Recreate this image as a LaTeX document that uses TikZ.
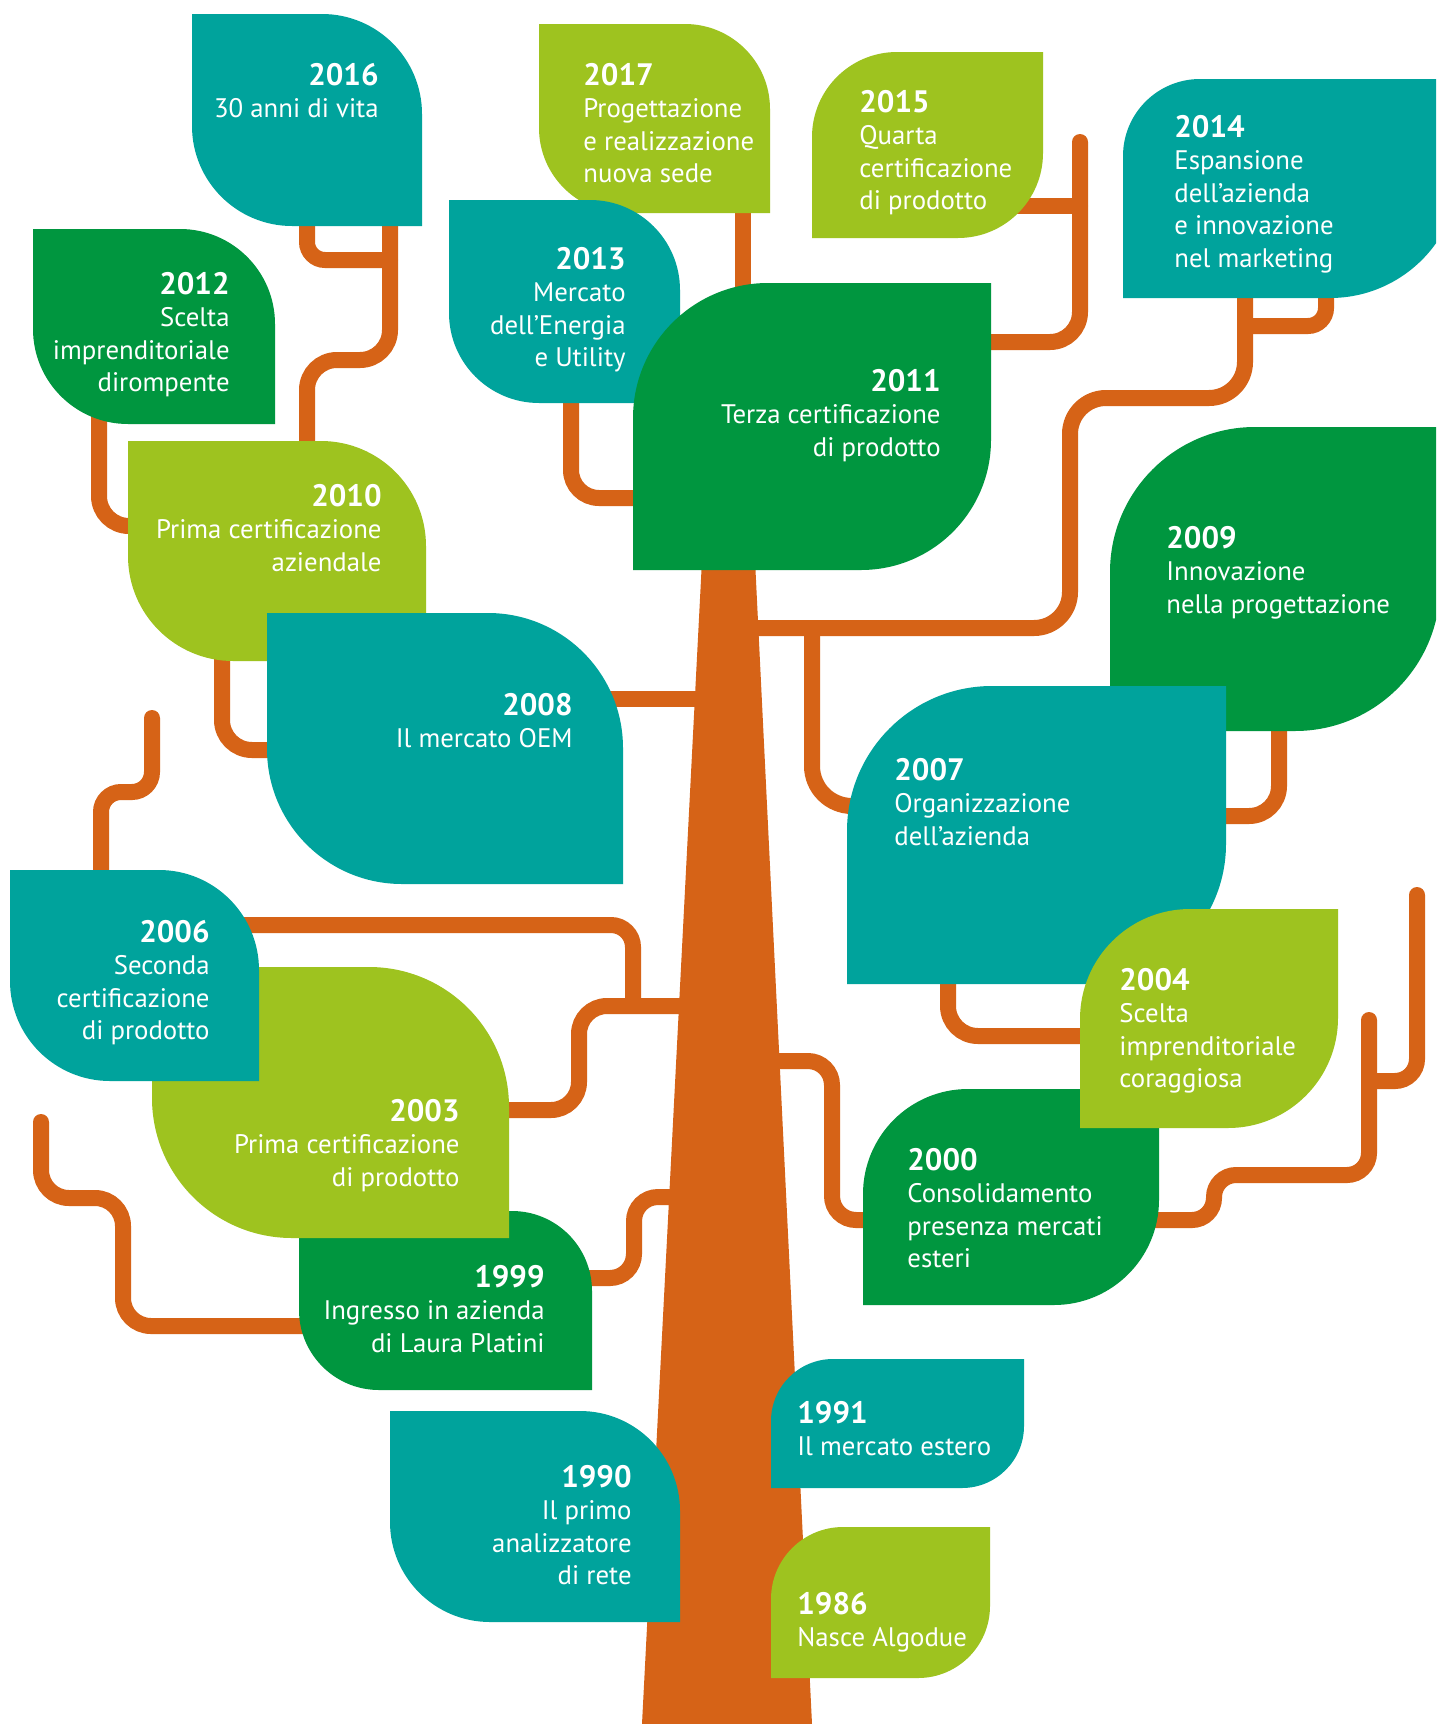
\documentclass[tikz,border=0pt]{standalone}
\usepackage{fontspec}
\setmainfont{PT Sans}
\definecolor{teal1}{HTML}{00A39C}
\definecolor{dgreen}{HTML}{00963F}
\definecolor{lgreen}{HTML}{9EC31F}
\definecolor{brorange}{HTML}{D66317}
% leaf with top-right and bottom-left corners rounded: left, top, right, bottom, radius, colour
\newcommand\leafA[6]{\fill[#6] (#1,#2) -- ({#3-#5},#2) .. controls ({#3-0.448*#5},#2) and (#3,{#2+0.448*#5}) .. (#3,{#2+#5}) -- (#3,#4) -- ({#1+#5},#4) .. controls ({#1+0.448*#5},#4) and (#1,{#4-0.448*#5}) .. (#1,{#4-#5}) -- cycle;}
% leaf with top-left and bottom-right corners rounded: left, top, right, bottom, r1, r2, colour
\newcommand\leafB[7]{\fill[#7] (#1,{#2+#5}) .. controls (#1,{#2+0.448*#5}) and ({#1+0.448*#5},#2) .. ({#1+#5},#2) -- (#3,#2) -- (#3,{#4-#6}) .. controls (#3,{#4-0.448*#6}) and ({#3-0.448*#6},#4) .. ({#3-#6},#4) -- (#1,#4) -- cycle;}
\newcommand\yr[1]{{\fontsize{15.5}{16.2}\selectfont\bfseries #1}}
\tikzset{
  branch/.style={draw=brorange, line width=8pt, line cap=round, rounded corners=#1},
  branch/.default=14pt,
  leaftext/.style={text=white, inner sep=0pt, font=\fontsize{13.4}{16.2}\selectfont},
  lt/.style={leaftext, anchor=north west, align=left},
  rt/.style={leaftext, anchor=north east, align=right},
}
\begin{document}
\begin{tikzpicture}[x=0.5pt, y=-0.5pt]
\path[use as bounding box] (0,0) rectangle (1436,1724);
\clip (0,0) rectangle (1436,1724);
\fill[white] (0,0) rectangle (1436,1724);
% branches
\draw[branch=9pt] (307,200) -- (307,260) -- (390,260);
\draw[branch=15pt] (390,200) -- (390,360) -- (307,360) -- (307,460);
\draw[branch=15pt] (99,400) -- (99,526) -- (150,526);
\draw[branch=15pt] (222,640) -- (222,750) -- (290,750);
\draw[branch=14pt] (571,380) -- (571,498) -- (650,498);
\draw[branch] (743,200) -- (743,300);
\draw[branch=15pt] (970,342) -- (1080,342) -- (1080,142);
\draw[branch] (1000,206) -- (1080,206);
\draw[branch=18pt] (740,628) -- (1070,628) -- (1070,398) -- (1245,398) -- (1245,290);
\draw[branch=9pt] (1326,290) -- (1326,326) -- (1245,326);
\draw[branch=20pt] (812,628) -- (812,806) -- (870,806);
\draw[branch=15pt] (1200,816) -- (1279,816) -- (1279,720);
\draw[branch] (600,699) -- (720,699);
\draw[branch=10pt] (152,718) -- (152,792) -- (101,792) -- (101,890);
\draw[branch=11pt, line cap=butt] (240,925) -- (633,925) -- (633,1006);
\draw[branch=14pt] (700,1006) -- (579,1006) -- (579,1110) -- (490,1110);
\draw[branch=12pt] (690,1197) -- (634,1197) -- (634,1278) -- (570,1278);
\draw[branch=14pt] (320,1326) -- (123,1326) -- (123,1198) -- (41,1198) -- (41,1122);
\draw[branch=15pt] (948,960) -- (948,1036) -- (1100,1036);
\draw[branch=12pt] (760,1061) -- (832,1061) -- (832,1220) -- (880,1220);
\draw[branch=11pt] (1140,1220) -- (1214,1220) -- (1214,1175) -- (1369,1175) -- (1369,1020);
\draw[branch=11pt] (1417,895) -- (1417,1081) -- (1369,1081);
% trunk
\fill[brorange] (702,560) -- (755,560) -- (812,1724) -- (642,1724) -- cycle;
% leaves
\leafA{192}{14}{422}{226}{100}{teal1}
\leafA{539}{24}{770}{213}{85}{lgreen}
\leafB{812}{52}{1043}{238}{85}{85}{lgreen}
\leafB{1123}{79}{1460}{298}{77}{130}{teal1}
\leafA{33}{229}{275}{424}{95}{dgreen}
\leafA{449}{200}{680}{403}{90}{teal1}
\leafB{633}{283}{991}{570}{135}{130}{dgreen}
\leafA{128}{441}{426}{661}{105}{lgreen}
\leafB{1110}{427}{1440}{731}{145}{145}{dgreen}
\leafA{267}{613}{623}{884}{135}{teal1}
\leafB{847}{686}{1226}{984}{145}{140}{teal1}
\leafA{299}{1211}{592}{1390}{80}{dgreen}
\leafA{152}{967}{509}{1238}{140}{lgreen}
\leafA{10}{870}{259}{1081}{100}{teal1}
\leafB{863}{1089}{1159}{1305}{105}{105}{dgreen}
\leafB{1080}{909}{1338}{1128}{110}{110}{lgreen}
\leafB{771}{1359}{1024}{1488}{62}{62}{teal1}
\leafA{390}{1411}{680}{1622}{100}{teal1}
\leafB{771}{1527}{990}{1678}{72}{72}{lgreen}
% texts
\node[rt] (t2016) at (379,63) {\yr{2016}\\30 anni di vita};
\node[lt] (t2017) at (583,63) {\yr{2017}\\Progettazione\\e realizzazione\\nuova sede};
\node[lt] (t2015) at (859,90) {\yr{2015}\\Quarta\\certificazione\\di prodotto};
\node[lt] (t2014) at (1174,115) {\yr{2014}\\Espansione\\dell’azienda\\e innovazione\\nel marketing};
\node[rt] (t2012) at (230,272) {\yr{2012}\\Scelta\\imprenditoriale\\dirompente};
\node[rt] (t2013) at (626,247) {\yr{2013}\\Mercato\\dell’Energia\\e Utility};
\node[rt] (t2011) at (941,369) {\yr{2011}\\Terza certificazione\\di prodotto};
\node[rt] (t2010) at (382,484) {\yr{2010}\\Prima certificazione\\aziendale};
\node[lt] (t2009) at (1166,526) {\yr{2009}\\Innovazione\\nella progettazione};
\node[rt] (t2008) at (573,693) {\yr{2008}\\Il mercato OEM};
\node[lt] (t2007) at (894,758) {\yr{2007}\\Organizzazione\\dell’azienda};
\node[rt] (t2006) at (210,920) {\yr{2006}\\Seconda\\certificazione\\di prodotto};
\node[rt] (t2003) at (460,1099) {\yr{2003}\\Prima certificazione\\di prodotto};
\node[lt] (t2004) at (1119,968) {\yr{2004}\\Scelta\\imprenditoriale\\coraggiosa};
\node[lt] (t2000) at (907,1148) {\yr{2000}\\Consolidamento\\presenza mercati\\esteri};
\node[rt] (t1999) at (545,1265) {\yr{1999}\\Ingresso in azienda\\di Laura Platini};
\node[lt] (t1991) at (797,1401) {\yr{1991}\\Il mercato estero};
\node[rt] (t1990) at (632,1465) {\yr{1990}\\Il primo\\analizzatore\\di rete};
\node[lt] (t1986) at (797,1592) {\yr{1986}\\Nasce Algodue};
\end{tikzpicture}
\end{document}
